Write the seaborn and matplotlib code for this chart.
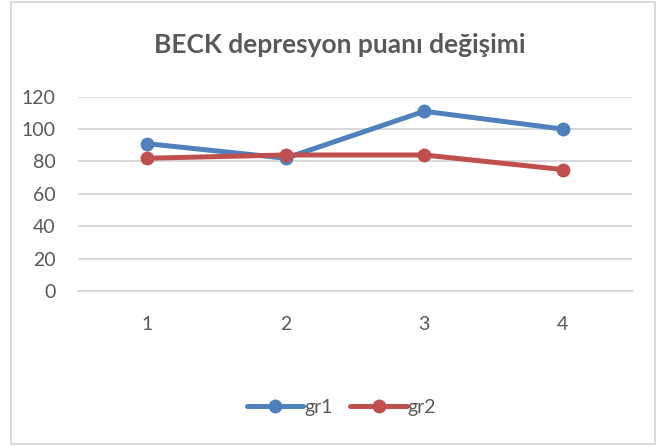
#Importing Modules

import pandas as pd
import matplotlib.pyplot as plt
import seaborn as sns
from matplotlib.patches import Rectangle

###

#Chart data

steps = [1, 2, 3, 4]
gr1 = [91, 82, 111, 100]
gr2 = [82, 84, 84, 75]
series_names = ["gr1", "gr2"]
y_ticks = [0, 20, 40, 60, 80, 100, 120]

df = pd.DataFrame({
    "step": [str(s) for s in steps] * 2,
    "value": gr1 + gr2,
    "group": [series_names[0]] * len(steps) + [series_names[1]] * len(steps),
})

###

#Plotting

sns.set_style("white")
plt.rcParams['font.family'] = ['Lato', 'DejaVu Sans']

fig = plt.figure(figsize=(6.57, 4.46), dpi=100)
ax = fig.add_axes([0.1187, 0.3475, 0.8432, 0.4357])

sns.lineplot(data=df, x="step", y="value", hue="group", sort=False,
             palette=["#4F81BD", "#C0504D"], linewidth=3.6,
             marker="o", markersize=10, markeredgewidth=0, ax=ax)

ax.set_ylim(0, 120)
ax.set_xlim(-0.5, 3.5)
ax.set_yticks(y_ticks)
ax.yaxis.grid(True, color="#D9D9D9", linewidth=1.4)
ax.set_axisbelow(True)
for side in ["top", "right", "left"]:
    ax.spines[side].set_visible(False)
ax.spines["bottom"].set_color("#D9D9D9")
ax.spines["bottom"].set_linewidth(1.4)
ax.tick_params(axis="both", length=0, labelsize=14, colors="#595959")
ax.tick_params(axis="y", pad=16)
ax.tick_params(axis="x", pad=18)
ax.set_xlabel("")
ax.set_ylabel("")

fig.text(0.517, 0.899, "BECK depresyon puanı değişimi", ha="center", va="center",
         fontsize=19, fontweight="bold", color="#595959")

leg = ax.legend(loc="center", bbox_to_anchor=(0.52, 0.0874), bbox_transform=fig.transFigure,
                ncol=2, frameon=False, fontsize=14, handlelength=2.9, columnspacing=0.9,
                handletextpad=0.05)
for t in leg.get_texts():
    t.set_color("#595959")

fig.patches.append(Rectangle((0.0167, 0.004), 0.981, 0.991, transform=fig.transFigure,
                             fill=False, edgecolor="#D9D9D9", linewidth=1.4))

fig.savefig("out.png", dpi=100)
